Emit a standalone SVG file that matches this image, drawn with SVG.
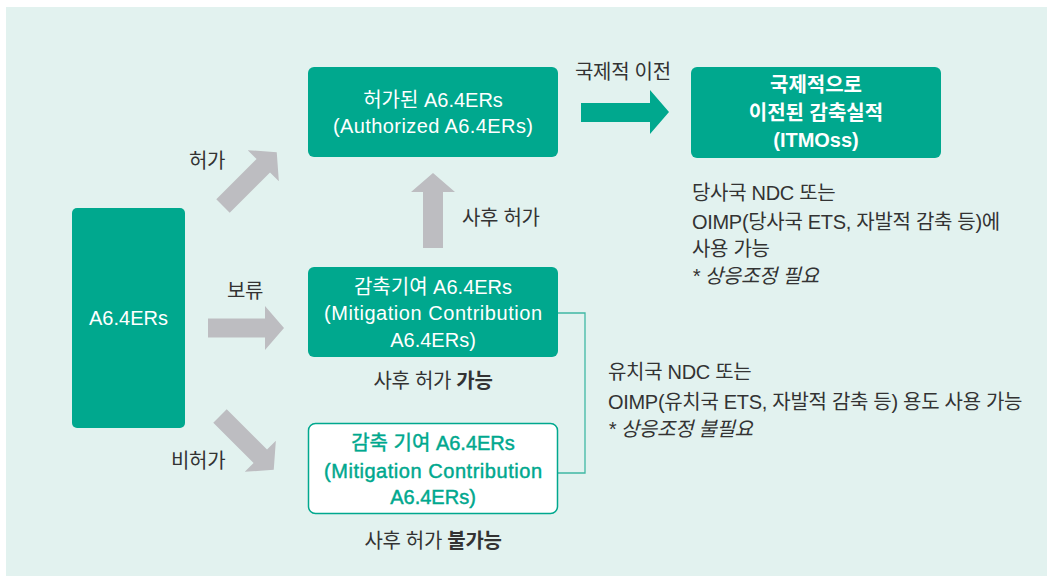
<svg xmlns="http://www.w3.org/2000/svg" width="1047" height="576" viewBox="0 0 1047 576">
<style>
text{font-family:"Liberation Sans","Noto Sans CJK KR",sans-serif;}
.box{fill:#00a88e;}
.wbox{fill:#ffffff;stroke:#00a88e;stroke-width:1.5;}
.wt{fill:#ffffff;font-size:20px;text-anchor:middle;}
.gt{fill:#00a88e;stroke:#00a88e;stroke-width:0.45;font-size:20px;text-anchor:middle;}
.lbl{fill:#333333;font-size:20px;letter-spacing:-0.3px;}
.c{text-anchor:middle;}
.garrow{fill:#bdbdc1;}
.tarrow{fill:#00a88e;}
.bracket{fill:none;stroke:#3fb8a4;stroke-width:1.3;}
</style>
<defs>
<path id="ga" d="M0,-9.5 L57,-9.5 L57,-22 L76,0 L57,22 L57,9.5 L0,9.5 Z"/>
</defs>
<rect x="6" y="7" width="1041" height="569" fill="#e2f2ef"/>

<g id="connectors">
<use href="#ga" class="garrow" transform="translate(223,206) rotate(-45)"/>
<use href="#ga" class="garrow" transform="translate(208,328)"/>
<use href="#ga" class="garrow" transform="translate(220,416) rotate(45)"/>
<path class="garrow" d="M423,248 L423,192 L411,192 L433,173 L455,192 L443,192 L443,248 Z"/>
<path class="tarrow" d="M581,103 L650,103 L650,90 L669,112 L650,134 L650,122 L581,122 Z"/>
<polyline class="bracket" points="558,313 585,313 585,473 558,473"/>
<text class="lbl" x="189" y="168">허가</text>
<text class="lbl" x="227" y="298">보류</text>
<text class="lbl" x="171" y="468">비허가</text>
<text class="lbl" x="462" y="225">사후 허가</text>
<text class="lbl" x="575" y="79">국제적 이전</text>
</g>

<g id="node-a64">
<rect class="box" x="72" y="208" width="113" height="220" rx="5"/>
<text class="wt" x="128.5" y="325">A6.4ERs</text>
</g>

<g id="node-authorized">
<rect class="box" x="308" y="67" width="250" height="90" rx="6"/>
<text class="wt" x="433" y="107">허가된 A6.4ERs</text>
<text class="wt" x="433" y="133" textLength="200" lengthAdjust="spacing">(Authorized A6.4ERs)</text>
</g>

<g id="node-mc">
<rect class="box" x="308" y="267" width="250" height="90" rx="6"/>
<text class="wt" x="433" y="294">감축기여 A6.4ERs</text>
<text class="wt" x="433" y="320" textLength="218" lengthAdjust="spacing">(Mitigation Contribution</text>
<text class="wt" x="433" y="347">A6.4ERs)</text>
<text class="lbl c" x="433" y="388">사후 허가 <tspan font-weight="bold">가능</tspan></text>
</g>

<g id="node-mc2">
<rect class="wbox" x="308.5" y="423.5" width="249" height="90" rx="7"/>
<text class="gt" x="433" y="450">감축 기여 A6.4ERs</text>
<text class="gt" x="433" y="478" textLength="218" lengthAdjust="spacing">(Mitigation Contribution</text>
<text class="gt" x="433" y="504">A6.4ERs)</text>
<text class="lbl c" x="433" y="548">사후 허가 <tspan font-weight="bold">불가능</tspan></text>
</g>

<g id="node-itmo">
<rect class="box" x="691" y="67" width="250" height="91" rx="6"/>
<text class="wt" x="816" y="92" font-weight="bold">국제적으로</text>
<text class="wt" x="816" y="120" font-weight="bold">이전된 감축실적</text>
<text class="wt" x="816" y="147" font-weight="bold">(ITMOss)</text>
</g>

<g id="note-host">
<text class="lbl" x="692" y="200">당사국 NDC 또는</text>
<text class="lbl" x="692" y="229">OIMP(당사국 ETS, 자발적 감축 등)에</text>
<text class="lbl" x="692" y="256">사용 가능</text>
<text class="lbl" x="692" y="283" font-style="italic">* 상응조정 필요</text>
</g>

<g id="note-guest">
<text class="lbl" x="608" y="379">유치국 NDC 또는</text>
<text class="lbl" x="608" y="409">OIMP(유치국 ETS, 자발적 감축 등) 용도 사용 가능</text>
<text class="lbl" x="608" y="436" font-style="italic">* 상응조정 불필요</text>
</g>
</svg>
